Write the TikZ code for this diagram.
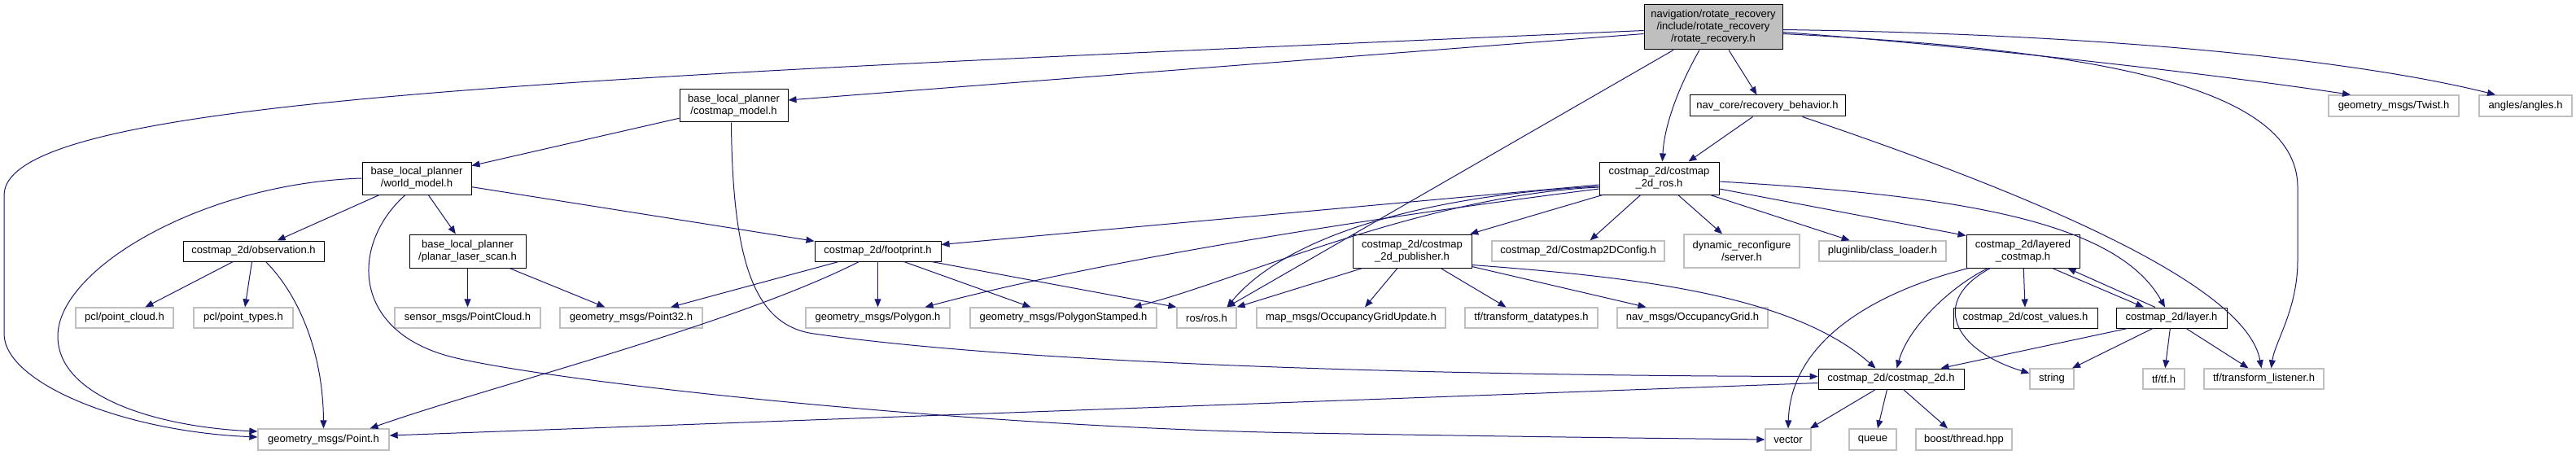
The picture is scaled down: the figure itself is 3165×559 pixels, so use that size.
\documentclass[tikz,border=0pt]{standalone}
\usepackage{fontspec}
\newfontfamily\dox{Liberation Sans}
\usetikzlibrary{arrows.meta}
\definecolor{navy}{HTML}{191970}
\definecolor{extgrey}{HTML}{BFBFBF}
\definecolor{rootgrey}{HTML}{BFBFBF}
\tikzset{
  edge/.style={draw=navy, line width=1pt, -{Triangle[length=10pt,width=8pt]}},
  intn/.style={draw=black, line width=1pt, fill=white, inner sep=0pt, align=center,
    font={\dox\fontsize{13pt}{15pt}\selectfont}},
  extn/.style={draw=extgrey, line width=1.3pt, fill=white, inner sep=0pt, align=center,
    font={\dox\fontsize{13pt}{15pt}\selectfont}},
  rootn/.style={intn, fill=rootgrey},
}
\begin{document}
\begin{tikzpicture}[x=1pt,y=-1pt]
\fill[white] (0,0) rectangle (3165,559);
\useasboundingbox (0,0) rectangle (3165,559);

% nodes
\node[rootn, minimum width=170, minimum height=55] (root) at (2105,33.5) {navigation/rotate\_recovery\\/include/rotate\_recovery\\/rotate\_recovery.h};
\node[intn, minimum width=191, minimum height=26] (rb) at (2171.5,130) {nav\_core/recovery\_behavior.h};
\node[intn, minimum width=147, minimum height=40] (cros) at (2038.5,219) {costmap\_2d/costmap\\\_2d\_ros.h};
\node[intn, minimum width=133, minimum height=40] (cmodel) at (901.5,130) {base\_local\_planner\\/costmap\_model.h};
\node[intn, minimum width=134, minimum height=40] (wmodel) at (512,219) {base\_local\_planner\\/world\_model.h};
\node[intn, minimum width=173, minimum height=25] (obs) at (311.5,308.5) {costmap\_2d/observation.h};
\node[intn, minimum width=143, minimum height=41] (pls) at (574.5,308.5) {base\_local\_planner\\/planar\_laser\_scan.h};
\node[intn, minimum width=155, minimum height=25] (fp) at (1078.5,308.5) {costmap\_2d/footprint.h};
\node[intn, minimum width=146, minimum height=41] (pub) at (1735,308.5) {costmap\_2d/costmap\\\_2d\_publisher.h};
\node[extn, minimum width=212, minimum height=25] (cfg) at (1939,308.5) {costmap\_2d/Costmap2DConfig.h};
\node[extn, minimum width=142, minimum height=41] (dyn) at (2140,308.5) {dynamic\_reconfigure\\/server.h};
\node[extn, minimum width=156, minimum height=25] (cl) at (2313,308.5) {pluginlib/class\_loader.h};
\node[intn, minimum width=139, minimum height=41] (lc) at (2485.5,308.5) {costmap\_2d/layered\\\_costmap.h};

\node[extn, minimum width=120, minimum height=25] (pcla) at (153,390.5) {pcl/point\_cloud.h};
\node[extn, minimum width=122, minimum height=25] (pclb) at (299,390.5) {pcl/point\_types.h};
\node[extn, minimum width=179, minimum height=25] (spc) at (574.5,390.5) {sensor\_msgs/PointCloud.h};
\node[extn, minimum width=175, minimum height=25] (pts) at (775.5,390.5) {geometry\_msgs/Point32.h};
\node[extn, minimum width=177, minimum height=25] (poly) at (1078.5,390.5) {geometry\_msgs/Polygon.h};
\node[extn, minimum width=229, minimum height=25] (polys) at (1306.5,390.5) {geometry\_msgs/PolygonStamped.h};
\node[extn, minimum width=73, minimum height=25] (ros) at (1482.5,390.5) {ros/ros.h};
\node[extn, minimum width=232, minimum height=25] (ogu) at (1660,390.5) {map\_msgs/OccupancyGridUpdate.h};
\node[extn, minimum width=163, minimum height=25] (tfdt) at (1881.5,390.5) {tf/transform\_datatypes.h};
\node[extn, minimum width=185, minimum height=25] (og) at (2079.5,390.5) {nav\_msgs/OccupancyGrid.h};
\node[intn, minimum width=177, minimum height=25] (cv) at (2488.5,390.5) {costmap\_2d/cost\_values.h};
\node[intn, minimum width=136, minimum height=25] (layer) at (2668,390.5) {costmap\_2d/layer.h};

\node[intn, minimum width=179, minimum height=25] (ctwo) at (2323.5,465.5) {costmap\_2d/costmap\_2d.h};
\node[extn, minimum width=54, minimum height=25] (str) at (2521,465.5) {string};
\node[extn, minimum width=51, minimum height=25] (tftf) at (2658.5,465.5) {tf/tf.h};
\node[extn, minimum width=147, minimum height=25] (tl) at (2781.5,465.5) {tf/transform\_listener.h};

\node[extn, minimum width=160, minimum height=26] (twist) at (2941,130) {geometry\_msgs/Twist.h};
\node[extn, minimum width=114, minimum height=26] (ang) at (3103,130) {angles/angles.h};

\node[extn, minimum width=161, minimum height=26] (pt) at (397.5,540) {geometry\_msgs/Point.h};
\node[extn, minimum width=56, minimum height=26] (vec) at (2197,540) {vector};
\node[extn, minimum width=58, minimum height=26] (que) at (2301,540) {queue};
\node[extn, minimum width=118, minimum height=26] (bth) at (2413,540) {boost/thread.hpp};

% root edges
\draw[edge] ([yshift=-4pt]root.west) .. controls (700,95) and (5,120) .. (5,240) -- (5,410) .. controls (5,470) and (150,530) .. ([yshift=3pt]pt.west);
\draw[edge] ([yshift=-8pt]root.west) -- ([yshift=7pt]cmodel.east);
\draw[edge] ([xshift=-49pt]root.south) -- ([xshift=25pt]ros.north);
\draw[edge] ([xshift=-17pt]root.south) .. controls (2066,100) and (2045,150) .. ([xshift=4pt]cros.north);
\draw[edge] ([xshift=19pt]root.south) -- ([xshift=-13pt]rb.north);
\draw[edge] ([yshift=-6pt]root.east) .. controls (2400,55) and (2700,88) .. ([xshift=-53pt]twist.north);
\draw[edge] ([yshift=-3pt]root.east) .. controls (2600,42) and (2900,75) .. ([xshift=-37pt]ang.north);
\draw[edge] ([yshift=-8pt]root.east) .. controls (2550,60) and (2823,100) .. (2823,230) -- (2823,320) .. controls (2823,380) and (2795,420) .. ([xshift=9pt]tl.north);

% recovery behavior
\draw[edge] ([xshift=-18pt]rb.south) -- ([xshift=36pt]cros.north);
\draw[edge] ([xshift=43pt]rb.south) .. controls (2500,240) and (2760,350) .. ([xshift=-3pt]tl.north);

% costmap model
\draw[edge] (cmodel) -- (wmodel);
\draw[edge] ([xshift=-3pt]cmodel.south) .. controls (900,330) and (930,400) .. (1000,410) .. controls (1300,453) and (1900,462) .. ([yshift=3pt]ctwo.west);

% world model
\draw[edge] (wmodel) -- (obs);
\draw[edge] (wmodel) -- (pls);
\draw[edge] (wmodel) -- (fp);
\draw[edge] (wmodel.west) .. controls (250,225) and (71,330) .. (71,413) .. controls (71,490) and (200,525) .. ([yshift=10pt]pt.west);
\draw[edge] ([xshift=-14pt]wmodel.south) .. controls (430,300) and (430,410) .. (561,440) .. controls (700,472) and (1200,525) .. (1600,532) .. controls (1900,537) and (2000,538) .. (vec.west);

% observation
\draw[edge] (obs) -- (pcla);
\draw[edge] (obs) -- (pclb);
\draw[edge] ([xshift=15pt]obs.south) .. controls (365,360) and (397,430) .. (pt.north);

% planar laser scan
\draw[edge] (pls) -- (spc);
\draw[edge] (pls) -- (pts);

% footprint
\draw[edge] (fp) -- (pts);
\draw[edge] ([xshift=-23pt]fp.south) .. controls (900,400) and (600,475) .. ([xshift=57pt]pt.north);
\draw[edge] (fp) -- (poly);
\draw[edge] ([xshift=32pt]fp.south) -- ([xshift=-40pt]polys.north);
\draw[edge] ([xshift=66pt]fp.south) -- (ros.north west);

% costmap_2d_ros
\draw[edge] ([yshift=-8pt]cros.west) -- ([yshift=8pt]fp.east);
\draw[edge] ([yshift=-13pt]cros.west) .. controls (1700,265) and (1350,320) .. ([xshift=58pt]poly.north);
\draw[edge] ([yshift=-11pt]cros.west) .. controls (1750,240) and (1520,345) .. ([xshift=86pt]polys.north);
\draw[edge] ([yshift=-10pt]cros.west) .. controls (1750,240) and (1580,290) .. ([xshift=25pt]ros.north);
\draw[edge] (cros) -- (pub);
\draw[edge] (cros) -- (cfg);
\draw[edge] (cros) -- (dyn);
\draw[edge] (cros) -- (cl);
\draw[edge] ([yshift=-13pt]cros.east) -- ([yshift=-2pt]lc.north west);
\draw[edge] ([yshift=-4pt]cros.east) .. controls (2400,240) and (2600,270) .. ([xshift=-8pt]layer.north);

% publisher
\draw[edge] ([xshift=-61pt]pub.south) -- (ros.north east);
\draw[edge] ([xshift=-18pt]pub.south) -- ([xshift=17pt]ogu.north);
\draw[edge] ([xshift=35pt]pub.south) -- ([xshift=-31pt]tfdt.north);
\draw[edge] ([yshift=2pt]pub.south east) -- ([xshift=-57pt]og.north);
\draw[edge] ([yshift=4pt]pub.south east) .. controls (2000,340) and (2200,360) .. ([xshift=-19pt]ctwo.north);

% layered costmap
\draw[edge] (lc) -- (cv);
\draw[edge] ([xshift=36pt]lc.south) -- ([xshift=-34pt]layer.north);
\draw[edge] ([xshift=-43pt]lc.south) .. controls (2400,350) and (2345,400) .. ([xshift=7pt]ctwo.north);
\draw[edge] ([xshift=-40pt]lc.south) .. controls (2370,370) and (2400,430) .. ([yshift=7pt]str.west);
\draw[edge] ([xshift=-67pt]lc.south) .. controls (2300,360) and (2200,420) .. (vec.north);

% layer
\draw[edge] ([xshift=-20pt]layer.north) -- ([xshift=55pt]lc.south);
\draw[edge] ([xshift=-54pt]layer.south) -- ([xshift=61pt]ctwo.north);
\draw[edge] ([xshift=-23pt]layer.south) -- ([xshift=25pt]str.north);
\draw[edge] (layer) -- (tftf);
\draw[edge] ([xshift=18pt]layer.south) -- ([xshift=-19pt]tl.north);

% costmap_2d
\draw[edge] ([xshift=-19pt]ctwo.south) -- ([xshift=27pt]vec.north);
\draw[edge] ([xshift=-5pt]ctwo.south) -- ([xshift=6pt]que.north);
\draw[edge] ([xshift=15pt]ctwo.south) -- ([xshift=-20pt]bth.north);
\draw[edge] ([yshift=-5pt]ctwo.west) -- ([yshift=5pt]pt.east);
\end{tikzpicture}
\end{document}
